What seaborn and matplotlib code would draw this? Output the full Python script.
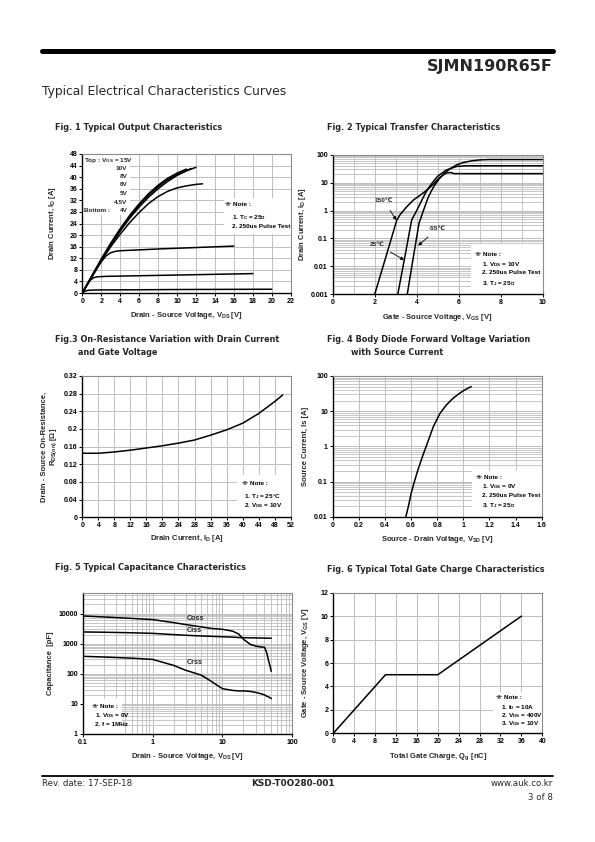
import numpy as np
import pandas as pd
import matplotlib
matplotlib.use("Agg")
import matplotlib.pyplot as plt
import seaborn as sns
from matplotlib.patches import Rectangle
from matplotlib.lines import Line2D
from matplotlib.ticker import FixedLocator, FuncFormatter, NullFormatter

# ---------------- data ----------------
# Fig 1 output characteristics
f1_vgs_labels = ["15V", "10V", "8V", "6V", "5V", "4.5V", "4V"]
f1_x_15 = [0, 1, 2, 3, 4, 5, 6, 7, 8, 9, 10, 11]
f1_y_15 = [0, 5.9, 11.7, 17.2, 22.2, 26.8, 30.8, 34.3, 37.2, 39.6, 41.4, 42.8]
f1_x_10 = [0, 1, 2, 3, 4, 5, 6, 7, 8, 9, 10, 11, 11.5]
f1_y_10 = [0, 5.8, 11.5, 16.9, 21.8, 26.3, 30.3, 33.8, 36.7, 39.1, 40.9, 42.3, 43.0]
f1_x_8 = [0, 1, 2, 3, 4, 5, 6, 7, 8, 9, 10, 11, 12]
f1_y_8 = [0, 5.7, 11.3, 16.6, 21.4, 25.8, 29.7, 33.1, 36.0, 38.5, 40.6, 42.2, 43.4]
f1_x_6 = [0, 1, 2, 3, 4, 5, 6, 7, 8, 9, 10, 11, 12, 12.7]
f1_y_6 = [0, 5.6, 11.0, 16.0, 20.3, 24.3, 27.8, 30.9, 33.3, 35.1, 36.3, 37.0, 37.5, 37.7]
f1_x_5 = [0, 1, 2, 2.5, 3, 3.5, 4, 6, 8, 12, 16]
f1_y_5 = [0, 5.5, 10.8, 12.8, 13.9, 14.4, 14.6, 14.9, 15.2, 15.7, 16.2]
f1_x_45 = [0, 0.4, 0.8, 1.2, 1.6, 2.5, 5, 10, 14, 18]
f1_y_45 = [0, 2.3, 4.3, 5.3, 5.6, 5.75, 5.9, 6.2, 6.45, 6.7]
f1_x_4 = [0, 0.3, 0.7, 1.5, 5, 10, 15, 20]
f1_y_4 = [0, 0.7, 0.95, 1.05, 1.1, 1.2, 1.25, 1.3]

# Fig 2 transfer characteristics
f2_x_150 = [2.0, 2.5, 3.05, 3.2, 3.5, 3.85, 4.2, 4.5, 4.8, 5.1, 5.4, 5.6, 5.8, 10]
f2_y_150 = [0.001, 0.018, 0.45, 0.7, 1.3, 2.4, 3.7, 5.5, 9, 15.5, 22, 23, 21, 21]
f2_x_25 = [3.1, 3.5, 3.76, 4.0, 4.25, 4.5, 4.75, 5.0, 5.4, 5.9, 6.3, 10]
f2_y_25 = [0.001, 0.04, 0.46, 1.0, 2.4, 5.5, 10, 17, 28, 38, 40, 40]
f2_x_m55 = [3.55, 3.9, 4.11, 4.32, 4.55, 4.8, 5.05, 5.3, 5.6, 5.9, 6.2, 6.6, 7.0, 7.4, 10]
f2_y_m55 = [0.001, 0.04, 0.35, 1.0, 3.0, 7, 13, 21, 32, 43, 52, 60, 65, 67, 67]

# Fig 3 on-resistance
f3_id = [0, 4, 8, 12, 16, 20, 24, 28, 32, 36, 40, 44, 48, 50]
f3_rds = [0.145, 0.145, 0.148, 0.152, 0.157, 0.162, 0.168, 0.175, 0.186, 0.198, 0.213, 0.235, 0.262, 0.277]

# Fig 4 body diode
f4_vsd = [0.56, 0.58, 0.6, 0.62, 0.65, 0.69, 0.73, 0.77, 0.82, 0.87, 0.92, 0.97, 1.01, 1.06]
f4_is = [0.01, 0.02, 0.045, 0.085, 0.2, 0.55, 1.4, 3.6, 8.5, 15, 23, 32, 40, 50]

# Fig 5 capacitance
f5_vds = [0.1, 0.2, 0.5, 1, 2, 3, 5, 7, 10, 14, 17, 20, 25, 30, 35, 40, 43, 46, 48, 50]
f5_coss = [8300, 7700, 6900, 6300, 5000, 4300, 3600, 3200, 3000, 2600, 2100, 1400, 950, 830, 780, 760, 500, 260, 180, 120]
f5_ciss = [2450, 2400, 2300, 2200, 2000, 1900, 1800, 1750, 1700, 1650, 1600, 1580, 1560, 1550, 1540, 1530, 1530, 1520, 1520, 1520]
f5_crss = [380, 360, 330, 300, 190, 130, 90, 55, 32, 28, 27, 27, 26, 24, 22, 20, 18, 17, 16, 15]

# Fig 6 gate charge
f6_qg = [0, 10, 20, 36]
f6_vgs = [0, 5, 5, 10]

# ---------------- style ----------------
sns.set_theme(style="white")
plt.rcParams['font.family'] = ['Liberation Sans', 'DejaVu Sans', 'Noto Sans CJK JP']
plt.rcParams['font.weight'] = 'bold'
plt.rcParams['mathtext.fontset'] = 'custom'
plt.rcParams['mathtext.rm'] = 'Liberation Sans:bold'
plt.rcParams['mathtext.it'] = 'Liberation Sans:bold'
plt.rcParams['mathtext.bf'] = 'Liberation Sans:bold'
plt.rcParams['mathtext.default'] = 'rm'
plt.rcParams['mathtext.fallback'] = 'stixsans'

W, H = 595, 842
fig = plt.figure(figsize=(W / 100, H / 100), dpi=100)
fig.patch.set_facecolor('white')

GRID = '#bdbdbd'
TICK_FS = 5
LAB_FS = 5.5
NOTE_FS = 4.6
LW = 1.1


def make_ax(l, r, t, b):
    return fig.add_axes([l / W, 1 - b / H, (r - l) / W, (b - t) / H])


def style(ax, minor_grid=False):
    ax.set_facecolor('white')
    ax.set_axisbelow(True)
    for s in ['left', 'bottom']:
        ax.spines[s].set_color('black')
        ax.spines[s].set_linewidth(1.0)
    for s in ['top', 'right']:
        ax.spines[s].set_color('#8c8c8c')
        ax.spines[s].set_linewidth(0.8)
    ax.tick_params(axis='both', which='major', direction='out', length=2, width=0.7,
                   color='black', labelsize=TICK_FS, pad=1.5, bottom=True, left=True,
                   labelcolor='black')
    ax.tick_params(axis='both', which='minor', length=0, bottom=False, left=False)
    ax.grid(True, which='major', color=GRID, lw=0.7)
    if minor_grid:
        ax.grid(True, which='minor', color=GRID, lw=0.6)


gfmt = FuncFormatter(lambda v, p: f"{v:g}")


def note(ax, box, lines):
    x0, y0, x1, y1 = box
    ax.add_patch(Rectangle((x0, y0), x1 - x0, y1 - y0, facecolor='white',
                           edgecolor='none', zorder=1))
    for (x, y, s) in lines:
        ax.text(x, y, s, fontsize=NOTE_FS, fontweight='bold', ha='left', va='center',
                zorder=3, color='black')


def curves_df(pairs, xname, yname):
    frames = []
    for name, xs, ys in pairs:
        frames.append(pd.DataFrame({xname: xs, yname: ys, 'curve': name}))
    return pd.concat(frames, ignore_index=True)


def draw(ax, df, x, y):
    sns.lineplot(data=df, x=x, y=y, units='curve', estimator=None, sort=False,
                 color='black', lw=LW, ax=ax, legend=False, zorder=2)


# ---------------- page header/footer ----------------
fig.add_artist(Line2D([42 / W, 553 / W], [1 - 50.5 / H, 1 - 50.5 / H], lw=3.6, color='black'))
fig.text(553 / W, 1 - 66 / H, "SJMN190R65F", ha='right', va='center', fontsize=11.5,
         fontweight='bold', family='DejaVu Sans')
fig.text(42 / W, 1 - 92 / H, "Typical Electrical Characteristics Curves", ha='left',
         va='center', fontsize=8.8, fontweight='normal', family='DejaVu Sans')
fig.add_artist(Line2D([42 / W, 553 / W], [1 - 775.5 / H, 1 - 775.5 / H], lw=1.3, color='black'))
fig.text(42 / W, 1 - 784 / H, "Rev. date: 17-SEP-18", ha='left', va='center', fontsize=6.2,
         fontweight='normal', family='DejaVu Sans')
fig.text(293 / W, 1 - 784 / H, "KSD-T0O280-001", ha='center', va='center', fontsize=6.4,
         fontweight='bold', family='DejaVu Sans')
fig.text(553 / W, 1 - 784 / H, "www.auk.co.kr", ha='right', va='center', fontsize=6.2,
         fontweight='normal', family='DejaVu Sans')
fig.text(553 / W, 1 - 797 / H, "3 of 8", ha='right', va='center', fontsize=6.2,
         fontweight='normal', family='DejaVu Sans')

TFS = 5.85


def ftitle(x, y, s):
    fig.text(x / W, 1 - y / H, s, ha='left', va='center', fontsize=TFS, fontweight='bold',
             family='DejaVu Sans')


ftitle(55, 127, "Fig. 1 Typical Output Characteristics")
ftitle(327, 128, "Fig. 2 Typical Transfer Characteristics")
ftitle(55, 339, "Fig.3 On-Resistance Variation with Drain Current")
ftitle(78, 352, "and Gate Voltage")
ftitle(327, 339, "Fig. 4 Body Diode Forward Voltage Variation")
ftitle(351, 352, "with Source Current")
ftitle(55, 567, "Fig. 5 Typical Capacitance Characteristics")
ftitle(327, 569, "Fig. 6 Typical Total Gate Charge Characteristics")

# ---------------- Fig 1 ----------------
ax1 = make_ax(82.3, 290.7, 154, 293)
df1 = curves_df([("15V", f1_x_15, f1_y_15), ("10V", f1_x_10, f1_y_10), ("8V", f1_x_8, f1_y_8),
                 ("6V", f1_x_6, f1_y_6), ("5V", f1_x_5, f1_y_5), ("4.5V", f1_x_45, f1_y_45),
                 ("4V", f1_x_4, f1_y_4)], 'Vds', 'Id')
draw(ax1, df1, 'Vds', 'Id')
ax1.set_xlim(0, 22)
ax1.set_ylim(0, 48)
ax1.xaxis.set_major_locator(FixedLocator(np.arange(0, 23, 2)))
ax1.yaxis.set_major_locator(FixedLocator(np.arange(0, 49, 4)))
style(ax1)
ax1.set_xlabel(r"Drain - Source Voltage, V$_{DS}$ [V]", fontsize=LAB_FS, fontweight='bold', labelpad=4)
ax1.set_ylabel(r"Drain Current, I$_{D}$ [A]", fontsize=LAB_FS, fontweight='bold', labelpad=8)
ax1.add_patch(Rectangle((0.1, 27), 4.9, 20.6, facecolor='white', edgecolor='none', zorder=1))
ax1.text(0.2, 45.7, r"Top : V$_{GS}$ = 15V", fontsize=NOTE_FS, ha='left', va='center', zorder=3)
lab_y = [42.9, 40.1, 37.3, 34.4, 31.4, 28.4]
for lab, yy in zip(f1_vgs_labels[1:], lab_y):
    ax1.text(4.75, yy, lab, fontsize=NOTE_FS, ha='right', va='center', zorder=3)
ax1.text(0.2, 28.4, "Bottom :", fontsize=NOTE_FS, ha='left', va='center', zorder=3)
note(ax1, (15.0, 20.5, 22, 32.8), [(15.1, 30.5, "※ Note :"), (15.8, 26.1, r"1. T$_{C}$ = 25℃"),
                                   (15.8, 23.0, "2. 250us Pulse Test")])

# ---------------- Fig 2 ----------------
ax2 = make_ax(332.7, 542.7, 154.7, 294.3)
df2 = curves_df([("150", f2_x_150, f2_y_150), ("25", f2_x_25, f2_y_25),
                 ("-55", f2_x_m55, f2_y_m55)], 'Vgs', 'Id')
draw(ax2, df2, 'Vgs', 'Id')
ax2.set_yscale('log')
ax2.set_xlim(0, 10)
ax2.set_ylim(0.001, 100)
ax2.xaxis.set_major_locator(FixedLocator(np.arange(0, 11, 2)))
ax2.xaxis.set_minor_locator(FixedLocator(np.arange(1, 10, 2)))
ax2.yaxis.set_major_locator(FixedLocator([0.001, 0.01, 0.1, 1, 10, 100]))
ax2.yaxis.set_minor_locator(FixedLocator([m * 10.0 ** e for e in range(-3, 2) for m in range(2, 10)]))
ax2.yaxis.set_major_formatter(gfmt)
ax2.yaxis.set_minor_formatter(NullFormatter())
style(ax2, minor_grid=True)
ax2.set_xlabel(r"Gate - Source Voltage, V$_{GS}$ [V]", fontsize=LAB_FS, fontweight='bold', labelpad=4)
ax2.set_ylabel(r"Drain Current, I$_{D}$ [A]", fontsize=LAB_FS, fontweight='bold', labelpad=1.5)
arrow = dict(arrowstyle='-|>', color='black', lw=0.6, mutation_scale=5, shrinkA=3, shrinkB=0)
ax2.annotate("150℃", xy=(3.03, 0.45), xytext=(2.45, 2.2), fontsize=NOTE_FS, ha='center',
             va='center', arrowprops=arrow, zorder=3)
ax2.annotate("25℃", xy=(3.4, 0.017), xytext=(2.1, 0.063), fontsize=NOTE_FS, ha='center',
             va='center', arrowprops=arrow, zorder=3)
ax2.annotate("-55℃", xy=(4.07, 0.055), xytext=(5.0, 0.23), fontsize=NOTE_FS, ha='center',
             va='center', arrowprops=arrow, zorder=3)
note(ax2, (6.6, 0.001, 10, 0.062), [(6.78, 0.026, "※ Note :"), (7.1, 0.012, r"1. V$_{DS}$ = 10V"),
                                    (7.1, 0.0058, "2. 250us Pulse Test"),
                                    (7.1, 0.0025, r"3. T$_{J}$ = 25℃")])

# ---------------- Fig 3 ----------------
ax3 = make_ax(82.3, 290.7, 376, 517.3)
df3 = curves_df([("rds", f3_id, f3_rds)], 'Id', 'Rds')
draw(ax3, df3, 'Id', 'Rds')
ax3.set_xlim(0, 52)
ax3.set_ylim(0, 0.32)
ax3.xaxis.set_major_locator(FixedLocator(np.arange(0, 53, 4)))
ax3.yaxis.set_major_locator(FixedLocator(np.round(np.arange(0, 0.33, 0.04), 2)))
ax3.yaxis.set_major_formatter(gfmt)
style(ax3)
ax3.set_xlabel(r"Drain Current, I$_{D}$ [A]", fontsize=LAB_FS, fontweight='bold', labelpad=3)
ax3.set_ylabel("Drain - Source On-Resistance,\n" + r"R$_{DS(on)}$ [Ω]", fontsize=LAB_FS,
               fontweight='bold', labelpad=3, linespacing=1.1)
note(ax3, (38.5, 0, 52, 0.096), [(39.8, 0.077, "※ Note :"), (40.3, 0.048, r"1. T$_{J}$ = 25°C"),
                                 (40.3, 0.026, r"2. V$_{GS}$ = 10V")])

# ---------------- Fig 4 ----------------
ax4 = make_ax(332.7, 541.7, 376, 516.7)
df4 = curves_df([("is", f4_vsd, f4_is)], 'Vsd', 'Is')
draw(ax4, df4, 'Vsd', 'Is')
ax4.set_yscale('log')
ax4.set_xlim(0, 1.6)
ax4.set_ylim(0.01, 100)
ax4.xaxis.set_major_locator(FixedLocator(np.round(np.arange(0, 1.61, 0.2), 1)))
ax4.xaxis.set_major_formatter(gfmt)
ax4.yaxis.set_major_locator(FixedLocator([0.01, 0.1, 1, 10, 100]))
ax4.yaxis.set_minor_locator(FixedLocator([m * 10.0 ** e for e in range(-2, 2) for m in range(2, 10)]))
ax4.yaxis.set_major_formatter(gfmt)
ax4.yaxis.set_minor_formatter(NullFormatter())
style(ax4)
ax4.grid(True, which='minor', axis='y', color=GRID, lw=0.6)
ax4.set_xlabel(r"Source - Drain Voltage, V$_{SD}$ [V]", fontsize=LAB_FS, fontweight='bold', labelpad=4)
ax4.set_ylabel("Source Current, Is [A]", fontsize=LAB_FS, fontweight='bold', labelpad=4)
note(ax4, (1.065, 0.01, 1.6, 0.2), [(1.10, 0.13, "※ Note :"), (1.14, 0.071, r"1. V$_{GS}$ = 0V"),
                                    (1.14, 0.039, "2. 250us Pulse Test"),
                                    (1.14, 0.021, r"3. T$_{J}$ = 25℃")])

# ---------------- Fig 5 ----------------
ax5 = make_ax(82.7, 292.3, 592.5, 734)
df5 = curves_df([("Coss", f5_vds, f5_coss), ("Ciss", f5_vds, f5_ciss),
                 ("Crss", f5_vds, f5_crss)], 'Vds', 'C')
draw(ax5, df5, 'Vds', 'C')
ax5.set_xscale('log')
ax5.set_yscale('log')
ax5.set_xlim(0.1, 100)
ax5.set_ylim(1, 50000)
ax5.xaxis.set_major_locator(FixedLocator([0.1, 1, 10, 100]))
ax5.xaxis.set_minor_locator(FixedLocator([m * 10.0 ** e for e in range(-1, 2) for m in range(2, 10)]))
ax5.yaxis.set_major_locator(FixedLocator([1, 10, 100, 1000, 10000]))
ax5.yaxis.set_minor_locator(FixedLocator([m * 10.0 ** e for e in range(0, 5) for m in range(2, 10)
                                          if m * 10.0 ** e < 50000]))
ax5.xaxis.set_major_formatter(gfmt)
ax5.yaxis.set_major_formatter(gfmt)
ax5.xaxis.set_minor_formatter(NullFormatter())
ax5.yaxis.set_minor_formatter(NullFormatter())
style(ax5, minor_grid=True)
ax5.set_xlabel(r"Drain - Source Voltage, V$_{DS}$ [V]", fontsize=LAB_FS, fontweight='bold', labelpad=4)
ax5.set_ylabel("Capacitance  [pF]", fontsize=LAB_FS, fontweight='bold', labelpad=3.5)
for name, yy in [("Coss", 6800), ("Ciss", 2800), ("Crss", 240)]:
    ax5.text(3.07, yy, name, fontsize=5.2, ha='left', va='center', zorder=3)
note(ax5, (0.1, 1, 0.36, 15), [(0.134, 8.1, "※ Note :"), (0.15, 4.0, r"1. V$_{DS}$ = 0V"),
                               (0.15, 2.1, "2. f = 1MHz")])

# ---------------- Fig 6 ----------------
ax6 = make_ax(333.3, 542.3, 592.7, 733.3)
df6 = curves_df([("qg", f6_qg, f6_vgs)], 'Qg', 'Vgs')
draw(ax6, df6, 'Qg', 'Vgs')
ax6.set_xlim(0, 40)
ax6.set_ylim(0, 12)
ax6.xaxis.set_major_locator(FixedLocator(np.arange(0, 41, 4)))
ax6.yaxis.set_major_locator(FixedLocator(np.arange(0, 13, 2)))
style(ax6)
ax6.set_xlabel(r"Total Gate Charge, Q$_{g}$ [nC]", fontsize=LAB_FS, fontweight='bold', labelpad=4)
ax6.set_ylabel(r"Gate - Source Voltage, V$_{GS}$ [V]", fontsize=LAB_FS, fontweight='bold', labelpad=7)
note(ax6, (30.6, 0, 40, 3.55), [(31.1, 3.04, "※ Note :"), (32.1, 2.2, r"1. I$_{D}$ = 10A"),
                                (32.1, 1.48, r"2. V$_{DS}$ = 400V"), (32.1, 0.8, r"3. V$_{GS}$ = 10V")])

for ax in [ax1, ax2, ax3, ax4, ax5, ax6]:
    for lab in ax.get_xticklabels() + ax.get_yticklabels():
        lab.set_fontweight('bold')

fig.savefig("out.png", dpi=100, facecolor='white')
